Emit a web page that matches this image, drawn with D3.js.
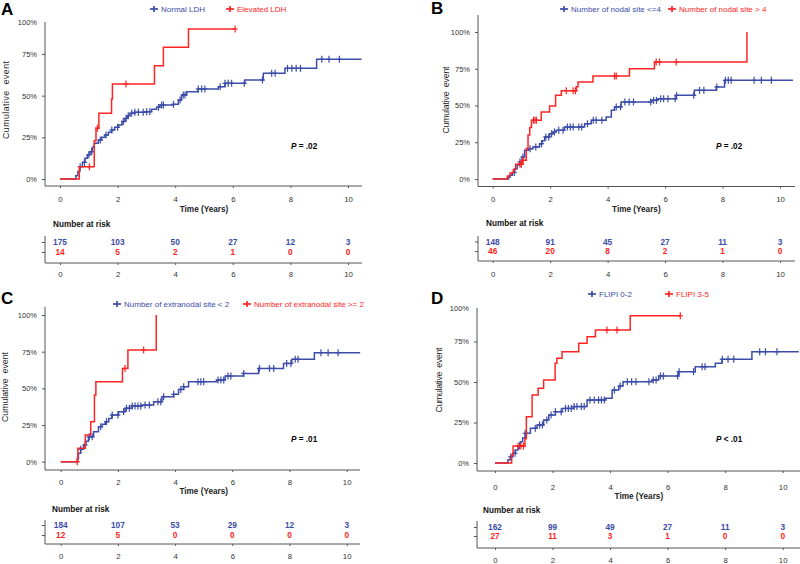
<!DOCTYPE html>
<html><head><meta charset="utf-8">
<script src="https://cdn.jsdelivr.net/npm/d3@7"></script>
<style>
body{margin:0;background:#fff}
svg{display:block}
text{font-family:"Liberation Sans",Arial,sans-serif;fill:#222}
</style>
</head><body>
<svg id="c" width="800" height="564"></svg>
<script>
// ---------- shared ----------
const timeTicks = [0, 2, 4, 6, 8, 10];
const seriesColors = ["#3b4ca9", "#ff2424"];

// ---------- Panel A ----------
const A_labels = ["Normal LDH", "Elevated LDH"];
const A_blue = [[0,0],[0.55,0.02],[0.62,0.045],[0.69,0.074],[0.78,0.10],[0.87,0.124],[0.95,0.145],[1.04,0.164],[1.12,0.19],[1.19,0.214],[1.33,0.234],[1.45,0.25],[1.56,0.264],[1.68,0.28],[1.79,0.294],[1.9,0.31],[2.03,0.324],[2.15,0.345],[2.26,0.364],[2.35,0.38],[2.43,0.394],[2.6,0.40],[2.95,0.404],[3.18,0.418],[3.35,0.43],[3.47,0.444],[3.94,0.448],[4.11,0.474],[4.22,0.504],[4.40,0.524],[4.80,0.54],[5.5,0.554],[5.73,0.574],[6.42,0.594],[7.06,0.634],[7.81,0.664],[8.91,0.718]];
const A_red = [[0,0],[0.67,0.074],[1.19,0.23],[1.25,0.305],[1.35,0.394],[1.79,0.48],[1.82,0.57],[3.28,0.68],[3.59,0.79],[4.46,0.90]];
const A_end = [10.47, 6.08];
const A_blueCens = [0.7,0.85,1.0,1.1,1.4,1.6,1.8,2.0,2.2,2.3,2.37,2.49,2.6,2.72,2.89,3.01,3.12,3.42,3.53,3.59,3.94,4.17,4.28,4.34,4.8,4.92,5.03,5.56,5.73,5.84,5.96,6.4,7.03,7.35,7.47,7.9,8.05,8.2,8.35,9.09,9.34,9.7];
const A_redCens = [1.02, 1.3, 2.29, 6.08];
const A_riskBlue = [175, 103, 50, 27, 12, 3];
const A_riskRed = [14, 5, 2, 1, 0, 0];
const A_pText = " = .02";

// ---------- Panel B ----------
const B_labels = ["Number of nodal site <=4", "Number of nodal site > 4"];
const B_blue = [[0,0],[0.55,0.012],[0.6,0.025],[0.68,0.045],[0.76,0.07],[0.85,0.095],[0.94,0.116],[1.02,0.15],[1.11,0.195],[1.25,0.205],[1.4,0.218],[1.63,0.24],[1.72,0.26],[1.81,0.286],[1.98,0.308],[2.1,0.32],[2.21,0.331],[2.5,0.354],[3.2,0.376],[3.43,0.399],[3.95,0.422],[4.13,0.467],[4.24,0.49],[4.47,0.524],[5.52,0.535],[5.75,0.546],[6.39,0.569],[7.02,0.603],[7.78,0.626],[8.07,0.671]];
const B_red = [[0,0],[0.51,0.02],[0.6,0.04],[0.72,0.065],[0.8,0.1],[1.05,0.127],[1.17,0.207],[1.23,0.3],[1.29,0.35],[1.35,0.40],[1.69,0.456],[1.98,0.497],[2.19,0.57],[2.39,0.60],[2.91,0.627],[2.97,0.66],[3.49,0.70],[4.76,0.75],[5.63,0.796],[8.85,1.0]];
const B_end = [10.45, 8.85];
const B_blueCens = [0.75,0.95,1.05,1.3,1.5,1.7,1.85,1.95,2.05,2.15,2.3,2.45,2.6,2.7,2.8,3.0,3.1,3.3,3.5,3.6,3.8,4.3,4.45,4.6,4.75,4.9,5.5,5.6,5.7,5.85,5.95,6.1,6.35,6.4,7.0,7.2,7.35,7.8,8.1,8.2,8.3,9.1,9.35,9.7];
const B_redCens = [0.95,1.0,1.05,1.42,1.47,1.52,2.56,2.8,2.88,4.24,4.3,5.69,5.81,6.39];
const B_riskBlue = [148, 91, 45, 27, 11, 3];
const B_riskRed = [46, 20, 8, 2, 1, 0];
const B_pText = " = .02";

// ---------- Panel C ----------
const C_labels = ["Number of extranodal site < 2", "Number of extranodal site >= 2"];
const C_blue = [[0,0],[0.58,0.02],[0.62,0.057],[0.7,0.085],[0.8,0.114],[0.88,0.14],[0.97,0.17],[1.15,0.205],[1.32,0.239],[1.45,0.255],[1.56,0.273],[1.68,0.295],[1.79,0.318],[2.02,0.341],[2.25,0.364],[2.49,0.38],[2.84,0.386],[3.25,0.409],[3.54,0.443],[3.95,0.459],[4.12,0.493],[4.3,0.511],[4.47,0.545],[5.46,0.557],[5.75,0.584],[6.39,0.602],[6.92,0.636],[7.79,0.67],[8.08,0.698],[8.87,0.743]];
const C_red = [[0,0],[0.6,0.091],[0.86,0.182],[1.05,0.273],[1.18,0.455],[1.23,0.545],[2.16,0.636],[2.35,0.761],[3.34,1.0]];
const C_end = [10.47, 3.34];
const C_blueCens = [0.7,0.85,1.0,1.1,1.4,1.6,1.8,2.0,2.2,2.3,2.4,2.5,2.6,2.7,2.8,2.95,3.1,3.4,3.5,3.6,3.95,4.2,4.3,4.8,4.9,5.0,5.5,5.6,5.7,5.85,5.95,6.4,6.95,7.3,7.45,7.9,8.05,8.2,8.3,9.1,9.35,9.7];
const C_redCens = [0.58, 2.25, 2.9];
const C_riskBlue = [184, 107, 53, 29, 12, 3];
const C_riskRed = [12, 5, 0, 0, 0, 0];
const C_pText = " = .01";

// ---------- Panel D ----------
const D_labels = ["FLIPI 0-2", "FLIPI 3-5"];
const D_blue = [[0,0],[0.45,0.02],[0.53,0.039],[0.62,0.06],[0.71,0.08],[0.8,0.105],[0.88,0.131],[0.96,0.155],[1.05,0.183],[1.23,0.214],[1.46,0.235],[1.69,0.265],[1.87,0.296],[2.1,0.317],[2.33,0.337],[2.73,0.348],[3.2,0.389],[3.84,0.399],[4.07,0.45],[4.3,0.475],[4.45,0.502],[5.46,0.512],[5.69,0.537],[6.38,0.564],[6.96,0.594],[7.66,0.615],[7.89,0.64],[8.93,0.687]];
const D_red = [[0,0],[0.58,0.049],[0.63,0.105],[1.04,0.15],[1.09,0.286],[1.29,0.42],[1.5,0.461],[1.69,0.512],[2.09,0.615],[2.15,0.646],[2.33,0.687],[2.91,0.739],[3.2,0.78],[3.49,0.821],[4.7,0.909]];
const D_end = [10.56, 6.44];
const D_blueCens = [0.55,0.7,0.85,1.05,1.4,1.55,1.65,1.8,1.95,2.1,2.3,2.45,2.55,2.65,2.75,2.85,3.0,3.1,3.3,3.45,3.6,3.7,3.8,4.15,4.35,4.6,4.75,4.9,5.35,5.5,5.6,5.75,5.85,6.35,6.4,6.9,7.2,7.3,7.9,8.1,8.3,9.2,9.4,9.8];
const D_redCens = [0.8, 0.9, 0.99, 3.89, 4.24, 6.44];
const D_riskBlue = [162, 99, 49, 27, 11, 3];
const D_riskRed = [27, 11, 3, 1, 0, 0];
const D_pText = " < .01";

// ---------- layout (positions only) ----------
const panels = [
 {letter:"A", labels:A_labels, curves:[A_blue,A_red], ends:A_end, cens:[A_blueCens,A_redCens], risk:[A_riskBlue,A_riskRed], p:A_pText,
  L:{letterX:1,letterY:15,legY:9,legX:[154,230],yAxX:45,yTop:22,y0:179,y100:12.3,hundredAtTop:true,
     x0:60,x10:348,xRight:362,xAxY:186,tickLabY:202,timeY:212,
     riskTitleX:53,riskTitleY:227,row1:242,row2:252,riskTop:236,riskAxY:263,riskLabY:277,
     ylabX:9,ylabY:100,ylabLen:78,pX:291,pY:149}},
 {letter:"B", labels:B_labels, curves:[B_blue,B_red], ends:B_end, cens:[B_blueCens,B_redCens], risk:[B_riskBlue,B_riskRed], p:B_pText,
  L:{letterX:431,letterY:14,legY:9,legX:[564,672],yAxX:478,yTop:15,y0:179,y100:32,hundredAtTop:false,
     x0:492.7,x10:780,xRight:795,xAxY:186.5,tickLabY:202,timeY:212,
     riskTitleX:486,riskTitleY:226,row1:241.5,row2:251,riskTop:236,riskAxY:261,riskLabY:277,
     ylabX:449,ylabY:100,ylabLen:67,pX:716,pY:149}},
 {letter:"C", labels:C_labels, curves:[C_blue,C_red], ends:C_end, cens:[C_blueCens,C_redCens], risk:[C_riskBlue,C_riskRed], p:C_pText,
  L:{letterX:1,letterY:304,legY:304,legX:[117,247],yAxX:45,yTop:307,y0:461.7,y100:315,hundredAtTop:false,
     x0:60.7,x10:346.7,xRight:360,xAxY:470,tickLabY:485,timeY:494,
     riskTitleX:52,riskTitleY:512,row1:525,row2:535,riskTop:520,riskAxY:544,riskLabY:559,
     ylabX:7.5,ylabY:387,ylabLen:70,pX:291,pY:442}},
 {letter:"D", labels:D_labels, curves:[D_blue,D_red], ends:D_end, cens:[D_blueCens,D_redCens], risk:[D_riskBlue,D_riskRed], p:D_pText,
  L:{letterX:431,letterY:304,legY:294,legX:[592,669],yAxX:477,yTop:308,y0:463,y100:301,hundredAtTop:true,
     x0:495,x10:782.7,xRight:800,xAxY:471,tickLabY:490,timeY:499,
     riskTitleX:483,riskTitleY:513,row1:527,row2:536,riskTop:521,riskAxY:548,riskLabY:563,
     ylabX:441.5,ylabY:380,ylabLen:65,pX:716,pY:442}}
];

const svg = d3.select("#c");
const axisCol = "#555";

function stepAt(series, t){
  let v = 0;
  for (const [tt, p] of series) if (tt <= t) v = p;
  return v;
}

function drawPanel(P){
  const L = P.L;
  const g = svg.append("g");
  const x = d3.scaleLinear().domain([0,10]).range([L.x0, L.x10]);
  const y = d3.scaleLinear().domain([0,1]).range([L.y0, L.y100]);

  g.append("text").attr("x",L.letterX).attr("y",L.letterY).text(P.letter)
    .attr("font-size",17).attr("font-weight","bold").style("fill","#000");

  P.labels.forEach((lab,i)=>{
    const mx = L.legX[i], col = seriesColors[i];
    g.append("line").attr("x1",mx-4).attr("x2",mx+4).attr("y1",L.legY).attr("y2",L.legY).attr("stroke",col).attr("stroke-width",1.7);
    g.append("line").attr("x1",mx).attr("x2",mx).attr("y1",L.legY-3).attr("y2",L.legY+3).attr("stroke",col).attr("stroke-width",1.7);
    g.append("text").attr("x",mx+7).attr("y",L.legY+3).text(lab).attr("font-size",8).style("fill",col);
  });

  const yTicks = L.hundredAtTop ? [0,.25,.5,.75] : [0,.25,.5,.75,1];
  const gy = g.append("g").attr("transform",`translate(${L.yAxX},0)`)
    .call(d3.axisLeft(y).tickValues(yTicks).tickFormat(d3.format(".0%")).tickSize(3).tickPadding(5));
  gy.select(".domain").remove();
  gy.selectAll("line").attr("stroke",axisCol);
  gy.selectAll("text").attr("font-size",7.5).attr("font-family",null).style("fill","#333");
  g.append("line").attr("x1",L.yAxX).attr("x2",L.yAxX).attr("y1",L.yTop).attr("y2",L.xAxY).attr("stroke",axisCol);
  if (L.hundredAtTop){
    g.append("text").attr("x",L.yAxX-8).attr("y",L.yTop+2.5).attr("text-anchor","end").text("100%").attr("font-size",7.5).style("fill","#333");
  }

  g.append("text").attr("transform",`translate(${L.ylabX},${L.ylabY}) rotate(-90)`)
    .attr("text-anchor","middle").attr("font-size",8.7).attr("textLength",L.ylabLen).attr("lengthAdjust","spacing")
    .style("white-space","pre").text("Cumulative  event");

  const gx = g.append("g").attr("transform",`translate(0,${L.xAxY})`)
    .call(d3.axisBottom(x).tickValues(timeTicks).tickSize(2));
  gx.select(".domain").remove();
  gx.selectAll("line").attr("stroke",axisCol);
  gx.selectAll("text").attr("y",L.tickLabY-L.xAxY).attr("dy",0).attr("font-size",7.8).attr("font-family",null).style("fill","#333");
  g.append("line").attr("x1",L.yAxX).attr("x2",L.xRight).attr("y1",L.xAxY).attr("y2",L.xAxY).attr("stroke",axisCol);
  g.append("text").attr("x",x(5)).attr("y",L.timeY).attr("text-anchor","middle").attr("font-size",8.2).attr("font-weight","bold").text("Time (Years)");

  const line = d3.line().x(d=>x(d[0])).y(d=>y(d[1])).curve(d3.curveStepAfter);
  P.curves.forEach((c,i)=>{
    const last = c[c.length-1];
    const pts = last[0] < P.ends[i] ? c.concat([[P.ends[i], last[1]]]) : c;
    g.append("path").attr("d",line(pts)).attr("fill","none").attr("stroke",seriesColors[i]).attr("stroke-width",1.5);
    P.cens[i].forEach(t=>{
      const cx = x(t), cy = y(stepAt(c,t));
      g.append("line").attr("x1",cx).attr("x2",cx).attr("y1",cy-3.5).attr("y2",cy+3.5).attr("stroke",seriesColors[i]).attr("stroke-width",1.2);
      g.append("line").attr("x1",cx-2.5).attr("x2",cx+2.5).attr("y1",cy).attr("y2",cy).attr("stroke",seriesColors[i]).attr("stroke-width",1.2);
    });
  });

  const pt = g.append("text").attr("x",L.pX).attr("y",L.pY).attr("font-size",8.2).attr("font-weight","bold").style("fill","#000");
  pt.append("tspan").attr("font-style","italic").text("P");
  pt.append("tspan").style("white-space","pre").text(P.p);

  g.append("text").attr("x",L.riskTitleX).attr("y",L.riskTitleY).attr("font-size",8.2).attr("font-weight","bold").text("Number at risk").style("fill","#111");
  const rowY = d3.scalePoint().domain([0,1]).range([L.row1, L.row2]);
  const gr = g.append("g").attr("transform",`translate(${L.yAxX},0)`)
    .call(d3.axisLeft(rowY).tickSize(3).tickFormat(""));
  gr.select(".domain").remove();
  gr.selectAll("line").attr("stroke",axisCol);
  g.append("line").attr("x1",L.yAxX).attr("x2",L.yAxX).attr("y1",L.riskTop).attr("y2",L.riskAxY).attr("stroke",axisCol);
  P.risk.forEach((row,i)=>{
    g.selectAll(null).data(row).enter().append("text")
      .attr("x",(d,j)=>x(timeTicks[j])).attr("y",rowY(i)+3)
      .attr("text-anchor","middle").attr("font-size",8.3).attr("font-weight","bold")
      .style("fill",seriesColors[i]).text(d=>d);
  });
  const gx2 = g.append("g").attr("transform",`translate(0,${L.riskAxY})`)
    .call(d3.axisBottom(x).tickValues(timeTicks).tickSize(2));
  gx2.select(".domain").remove();
  gx2.selectAll("line").attr("stroke",axisCol);
  gx2.selectAll("text").attr("y",L.riskLabY-L.riskAxY).attr("dy",0).attr("font-size",7.8).attr("font-family",null).style("fill","#333");
  g.append("line").attr("x1",L.yAxX).attr("x2",L.xRight).attr("y1",L.riskAxY).attr("y2",L.riskAxY).attr("stroke",axisCol);
}

panels.forEach(drawPanel);
</script>
</body></html>
